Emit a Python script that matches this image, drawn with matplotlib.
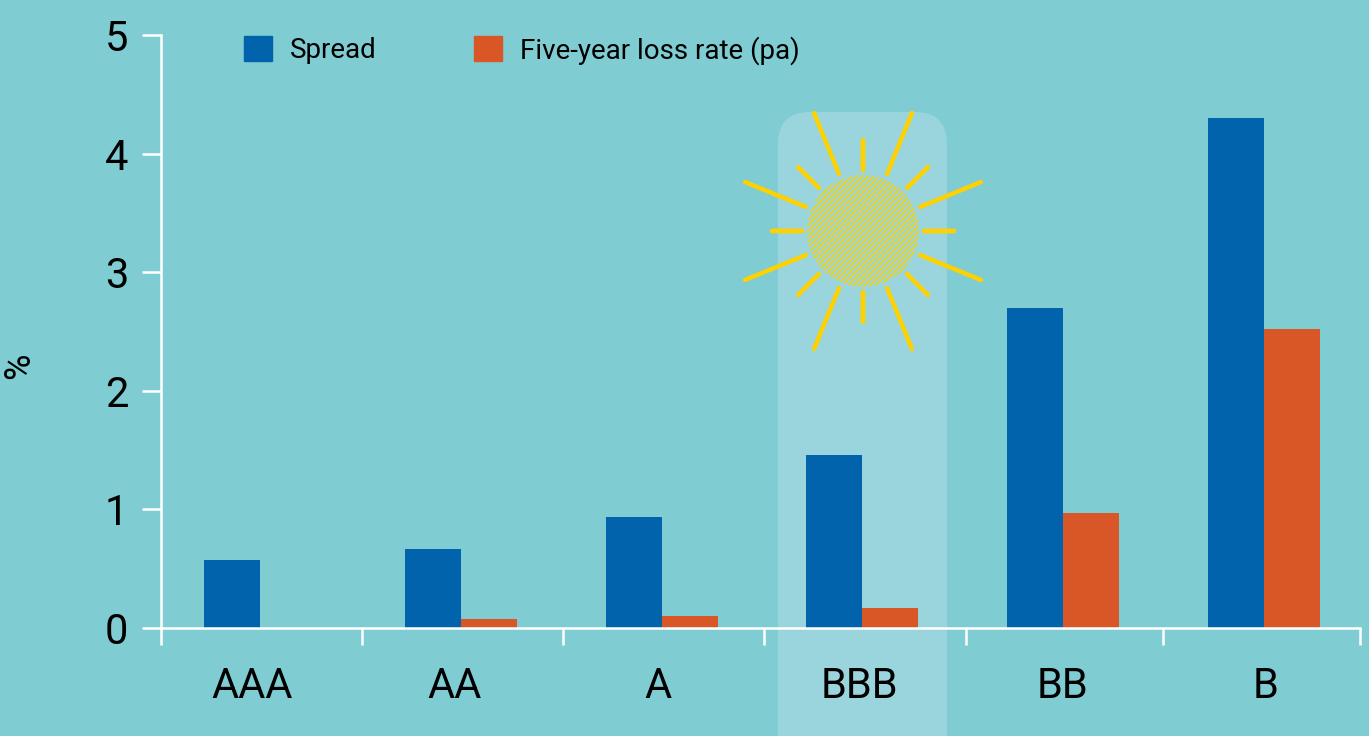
import matplotlib
matplotlib.use('Agg')
import matplotlib.pyplot as plt
from matplotlib.patches import Circle, FancyBboxPatch, Patch

ratings = ['AAA', 'AA', 'A', 'BBB', 'BB', 'B']
spread = [0.57, 0.67, 0.94, 1.46, 2.70, 4.30]
loss_rate = [0, 0.08, 0.10, 0.17, 0.97, 2.52]
y_ticks = [0, 1, 2, 3, 4, 5]
x_edges = [-0.493, 0.508, 1.509, 2.51, 3.516, 4.497, 5.478]
label_pos = [-0.04, 0.97, 1.98, 2.985, 3.995, 5.01]

BG = '#7FCCD3'
BLUE = '#0063AC'
ORANGE = '#D95627'
YELLOW = '#FFD100'

plt.rcParams['font.family'] = 'Roboto'
plt.rcParams['hatch.linewidth'] = 1.1

W, H = 1369, 736
fig = plt.figure(figsize=(W / 100, H / 100), dpi=100, facecolor=BG)

# background layer in pixels, for the highlight panel and the sun
back = fig.add_axes([0, 0, 1, 1], zorder=0)
back.set_xlim(0, W)
back.set_ylim(H, 0)
back.axis('off')
back.add_patch(FancyBboxPatch((808, 142), 109, 700, boxstyle='round,pad=0,rounding_size=30',
                              mutation_aspect=1, linewidth=0, facecolor='#9AD5DD',
                              ).__class__((778, 112), 169, 700,
                                          boxstyle='round,pad=0,rounding_size=32',
                                          linewidth=0, facecolor='#9AD5DD'))

cx, cy = 863, 231
back.add_patch(Circle((cx, cy), 56, facecolor='none', edgecolor=YELLOW, hatch='//////', linewidth=0))
rays = [(24, 57, 49, 118), (57, 24, 118, 49), (0, 61, 0, 91), (61, 0, 91, 0), (44, 43, 65, 64)]
for x0, y0, x1, y1 in rays:
    for sx in (-1, 1):
        for sy in (-1, 1):
            back.plot([cx + sx * x0, cx + sx * x1], [cy + sy * y0, cy + sy * y1],
                      color=YELLOW, lw=3.2, solid_capstyle='round')

# main chart
ax = fig.add_axes([161 / W, 1 - 628 / H, (1360 - 161) / W, (628 - 35) / H], zorder=1)
ax.patch.set_visible(False)
width = 0.279
xs = list(range(len(ratings)))
ax.bar([x - width / 2 for x in xs], spread, width, color=BLUE, label='Spread')
ax.bar([x + width / 2 for x in xs], loss_rate, width, color=ORANGE, label='Five-year loss rate (pa)')
ax.set_xlim(x_edges[0], x_edges[-1])
ax.set_ylim(0, 5)

for s in ['top', 'right']:
    ax.spines[s].set_visible(False)
for s in ['left', 'bottom']:
    ax.spines[s].set_color('white')
    ax.spines[s].set_linewidth(1.8)
    ax.spines[s].set_zorder(5)

ax.set_yticks(y_ticks)
ax.tick_params(axis='y', length=13.7, width=1.8, color='white', labelsize=30, pad=10, labelcolor='black')
ax.set_xticks(x_edges)
ax.set_xticklabels([])
ax.set_xticks(label_pos, minor=True)
ax.set_xticklabels(ratings, minor=True)
ax.tick_params(axis='x', which='major', length=12, width=1.8, color='white')
ax.tick_params(axis='x', which='minor', length=0, labelsize=30, pad=27, labelcolor='black')
for t in ax.get_xticklines() + ax.get_yticklines():
    t.set_clip_on(False)

fig.text(19 / W, 1 - 366 / H, '%', rotation=90, fontsize=26, ha='center', va='center', color='black')

handles = [Patch(color=BLUE, label='Spread'), Patch(color=ORANGE, label='Five-year loss rate (pa)')]
ax.legend(handles=handles, ncol=2, frameon=False, fontsize=20, loc='upper left',
          bbox_to_anchor=(244 / W, 1 - 36 / H), bbox_transform=fig.transFigure,
          borderpad=0, borderaxespad=0, handlelength=1, handleheight=1,
          handletextpad=0.65, columnspacing=3.5, labelcolor='black')

fig.savefig('out.png', dpi=100, facecolor=BG)
